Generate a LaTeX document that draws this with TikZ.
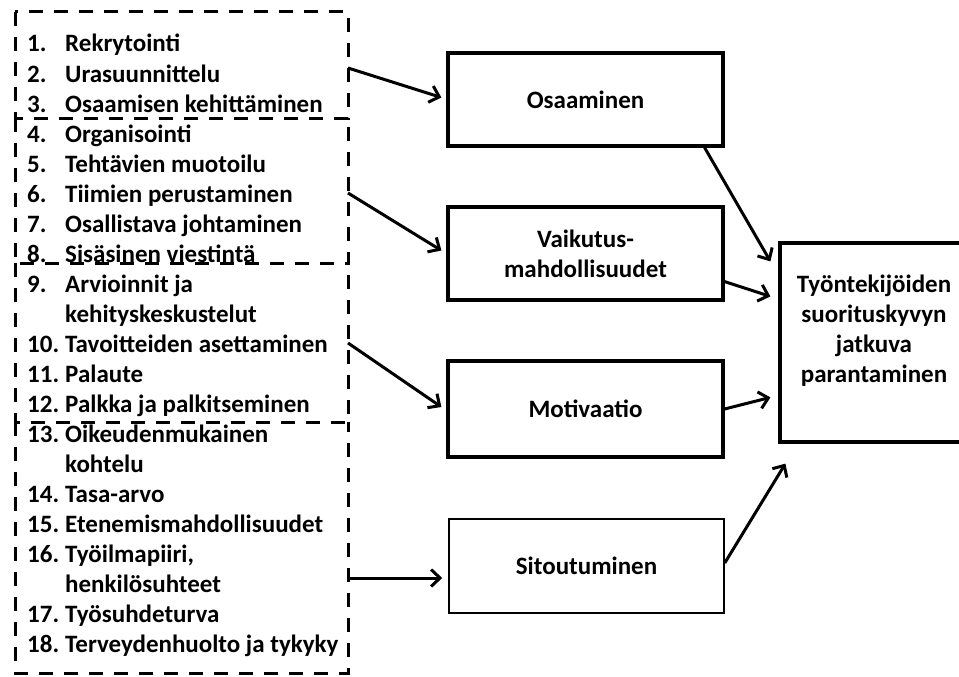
\documentclass[tikz,border=0pt]{standalone}
\usepackage{fontspec}
\setmainfont{Carlito}
\usetikzlibrary{arrows.meta,calc}

\begin{document}
\begin{tikzpicture}[x=1pt,y=-1pt,
  txt/.style={font=\fontsize{25pt}{30pt}\selectfont\bfseries},
  item/.style={txt, anchor=base west, inner sep=0pt},
  group/.style={draw, line width=3pt, dash pattern=on 14pt off 11pt},
  factor/.style={draw, line width=3.2pt, inner sep=0pt, minimum width=275pt, minimum height=93pt,
    txt, align=center},
  arr/.style={line width=3pt, -{Straight Barb[length=9pt,width=17pt]}}]

\useasboundingbox (0,0) rectangle (959,677);
\fill[white] (0,0) rectangle (959,677);
\clip (0,0) rectangle (959,677);

% dashed groups of HR practices (shared edges drawn once)
\draw[group] (15,12) rectangle (348,118);
\draw[group] (15,118) -- (15,263) -- (348,263) -- (348,118);
\draw[group] (15,263) -- (15,422) -- (348,422) -- (348,263);
\draw[group] (15,422) -- (15,673) -- (348,673) -- (348,422);

% numbered practices
\node[item] (n1)  at (27,52)  {1.};  \node[item] (t1)  at (65,52)  {Rekrytointi};
\node[item] (n2)  at (27,82)  {2.};  \node[item] (t2)  at (65,82)  {Urasuunnittelu};
\node[item] (n3)  at (27,112) {3.};  \node[item] (t3)  at (65,112) {Osaamisen kehittäminen};
\node[item] (n4)  at (27,142) {4.};  \node[item] (t4)  at (65,142) {Organisointi};
\node[item] (n5)  at (27,172) {5.};  \node[item] (t5)  at (65,172) {Tehtävien muotoilu};
\node[item] (n6)  at (27,202) {6.};  \node[item] (t6)  at (65,202) {Tiimien perustaminen};
\node[item] (n7)  at (27,232) {7.};  \node[item] (t7)  at (65,232) {Osallistava johtaminen};
\node[item] (n8)  at (27,262) {8.};  \node[item] (t8)  at (65,262) {Sisäsinen viestintä};
\node[item] (n9)  at (27,292) {9.};  \node[item] (t9)  at (65,292) {Arvioinnit ja};
                                     \node[item] (t9b) at (65,322) {kehityskeskustelut};
\node[item] (n10) at (27,352) {10.}; \node[item] (t10) at (65,352) {Tavoitteiden asettaminen};
\node[item] (n11) at (27,382) {11.}; \node[item] (t11) at (65,382) {Palaute};
\node[item] (n12) at (27,412) {12.}; \node[item] (t12) at (65,412) {Palkka ja palkitseminen};
\node[item] (n13) at (27,442) {13.}; \node[item] (t13) at (65,442) {Oikeudenmukainen};
                                     \node[item] (t13b) at (65,472) {kohtelu};
\node[item] (n14) at (27,502) {14.}; \node[item] (t14) at (65,502) {Tasa-arvo};
\node[item] (n15) at (27,532) {15.}; \node[item] (t15) at (65,532) {Etenemismahdollisuudet};
\node[item] (n16) at (27,562) {16.}; \node[item] (t16) at (65,562) {Työilmapiiri,};
                                     \node[item] (t16b) at (65,592) {henkilösuhteet};
\node[item] (n17) at (27,622) {17.}; \node[item] (t17) at (65,622) {Työsuhdeturva};
\node[item] (n18) at (27,652) {18.}; \node[item] (t18) at (65,652) {Terveydenhuolto ja tykyky};

% arrow origins on the groups' right edge
\coordinate (s1) at (348,68);
\coordinate (s2) at (348,193);
\coordinate (s3) at (348,343);
\coordinate (s4) at (348,578);

% mediating factors
\node[factor] (osa) at (585.5,99.5) {Osaaminen};
\node[factor] (vai) at (585.5,253.5) {\fontsize{25pt}{32pt}\selectfont Vaikutus-\\mahdollisuudet};
\node[factor, minimum height=96pt] (mot) at (585.5,409) {Motivaatio};
\node[factor, line width=1.5pt, minimum height=94pt] (sit) at (586.5,566) {Sitoutuminen};

% outcome
\node[draw, line width=3.2pt, inner sep=0pt, minimum width=188pt, minimum height=199pt] (perf) at (874,342.5) {};
\node[txt, align=center, inner sep=0pt] (perftxt) at (874,331)
  {Työntekijöiden\\suorituskyvyn\\jatkuva\\parantaminen};

% practices -> factors
\draw[arr] (s1) -- ($(osa.west)+(-5,-2)$);
\draw[arr] (s2) -- ($(vai.west)+(-5,-3)$);
\draw[arr] (s3) -- ($(mot.west)+(-5,-2)$);
\draw[arr] (s4) -- ($(s4 -| sit.west)+(-6,0)$);

% factors -> outcome
\draw[arr] ($(osa.south east)+(-20,0)$) -- ($(perf.north west)+(-8,20)$);
\draw[arr] ($(vai.south east)+(0,-20)$) -- ($(perf.north west)+(-8,55)$);
\draw[arr] (mot.east) -- ($(perf.north west)+(-8,156)$);
\draw[arr] ($(sit.east)+(0,-3)$) -- ($(perf.south west)+(7,20)$);
\end{tikzpicture}
\end{document}
